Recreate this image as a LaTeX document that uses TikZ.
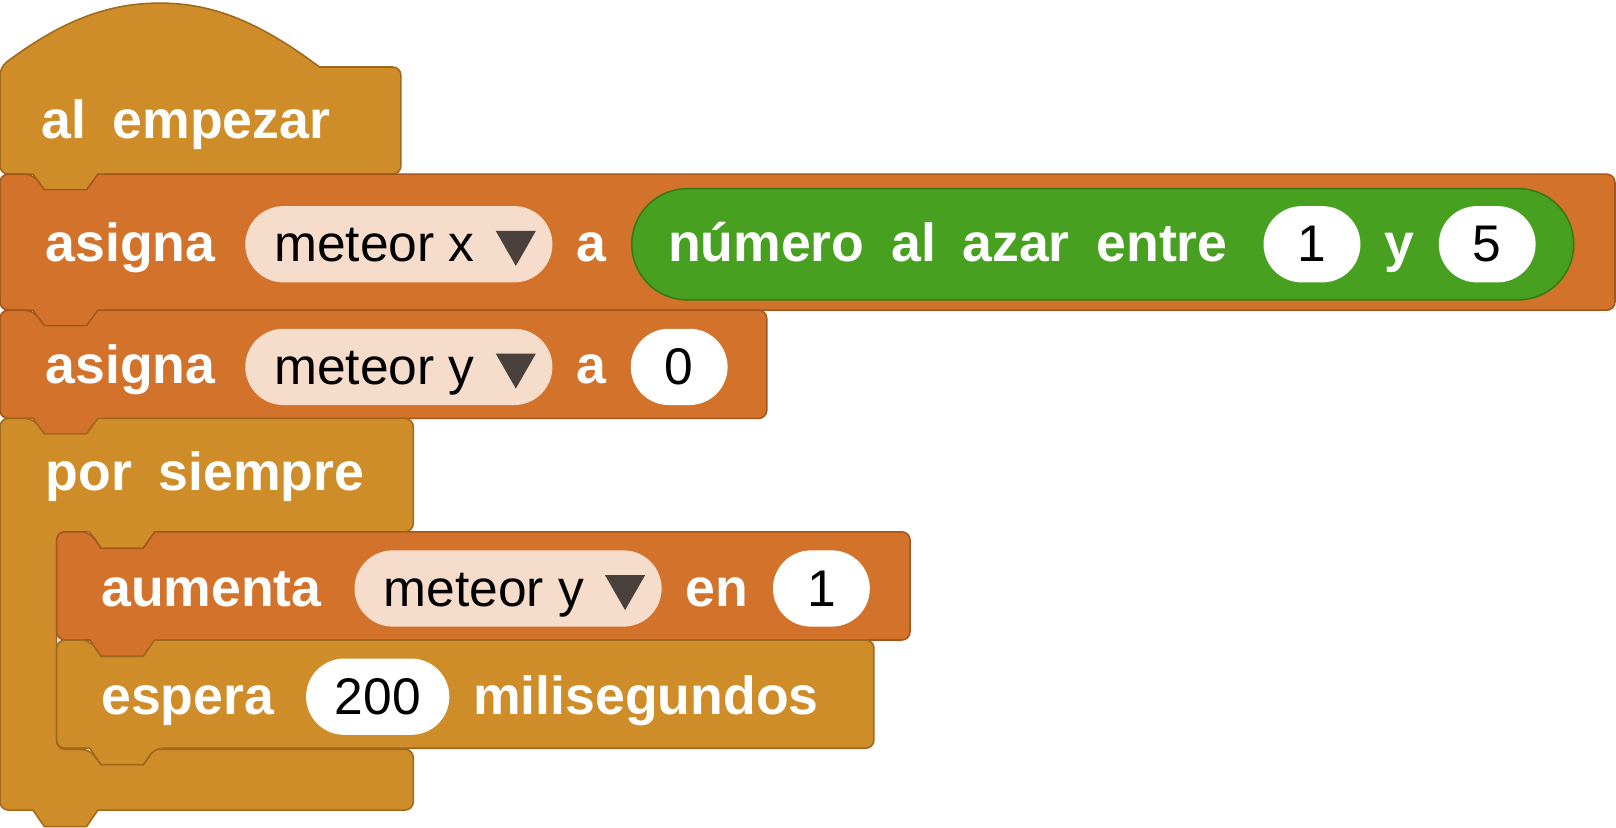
\documentclass[tikz,border=0pt]{standalone}
\usepackage{fontspec}
\setmainfont{Liberation Sans}
\definecolor{gold}{HTML}{CF8D29}
\definecolor{goldd}{HTML}{A0681C}
\definecolor{orng}{HTML}{D2722B}
\definecolor{orngd}{HTML}{A4561B}
\definecolor{grn}{HTML}{48A020}
\definecolor{grnd}{HTML}{357A16}
\definecolor{pill}{HTML}{F5DCCB}
\definecolor{tri}{HTML}{4A413C}
\newcommand\blk[6]{\filldraw[fill=#5,draw=#6,line width=1.5pt,rounded corners=8pt] (#1,#2) -- (#1+32,#2) [sharp corners]-- (#1+43,#2+15) -- (#1+84,#2+15) -- (#1+95,#2) [rounded corners=8pt] -- (#3,#2) -- (#3,#4) -- (#1+95,#4) [sharp corners] -- (#1+84,#4+16) -- (#1+43,#4+16) -- (#1+32,#4) [rounded corners=8pt] -- (#1,#4) -- cycle;}
\newcommand\tri[2]{\fill[tri] (#1,#2) -- (#1+39,#2) -- (#1+19.5,#2+34) -- cycle;}
\newcommand\W{\hspace{0.22em}}
\tikzset{lbl/.style={text=white,font=\fontsize{52}{60}\selectfont\bfseries,anchor=base west,inner sep=0pt},
val/.style={text=black,font=\fontsize{50}{60}\selectfont,inner sep=0pt},
pl/.style={fill=pill,rounded corners=37pt},
wp/.style={fill=white,rounded corners=37pt}}
\begin{document}
\begin{tikzpicture}[x=1pt,y=-1pt]
\useasboundingbox (0,0) rectangle (1568,803.4);
% hat
\filldraw[fill=gold,draw=goldd,line width=1.5pt,rounded corners=8pt] (0,169) -- (0,65) [sharp corners] .. controls (60,20) and (105,3) .. (155,3) .. controls (205,3) and (250,20) .. (310,65) [rounded corners=8pt] -- (389,65) -- (389,169) -- (95,169) [sharp corners] -- (84,185) -- (43,185) -- (32,169) [rounded corners=8pt] -- cycle;
\node[lbl] (t1) at (40,134) {al\W{} empezar};
% asigna 1
\blk{0}{169}{1567}{301}{orng}{orngd}
\node[lbl] (t2) at (44,254) {asigna};
\fill[pl] (238,200) rectangle (536,274);
\node[val,anchor=base west] (p1) at (266,254) {meteor x};
\tri{481}{224}
\node[lbl] (t3) at (559,254) {a};
\filldraw[fill=grn,draw=grnd,line width=1.5pt,rounded corners=54pt] (613,183) rectangle (1527,291);
\node[lbl] (t4) at (648,254) {número\W{} al\W{} azar\W{} entre};
\fill[wp] (1226,200) rectangle (1320,274);
\node[val] (v1) at (1273,237) {1};
\node[lbl] (t5) at (1343,254) {y};
\fill[wp] (1396,200) rectangle (1490,274);
\node[val] (v2) at (1443,237) {5};
% asigna 2
\blk{0}{301}{744}{406}{orng}{orngd}
\node[lbl] (t6) at (44,372) {asigna};
\fill[pl] (238,319) rectangle (536,393);
\node[val,anchor=base west] (p2) at (266,373) {meteor y};
\tri{481}{343}
\node[lbl] (t7) at (559,372) {a};
\fill[wp] (612,319) rectangle (706,393);
\node[val] (v3) at (659,356) {0};
% forever
\filldraw[fill=gold,draw=goldd,line width=1.5pt,rounded corners=8pt] (0,406) -- (32,406) [sharp corners] -- (43,421) -- (84,421) -- (95,406) [rounded corners=8pt] -- (401,406) -- (401,516) -- (150,516) [sharp corners] -- (139,532) -- (98,532) -- (87,516) [rounded corners=8pt] -- (55,516) -- (55,727) -- (87,727) [sharp corners] -- (98,742) -- (139,742) -- (150,727) [rounded corners=8pt] -- (401,727) -- (401,786) [sharp corners] -- (95,786) -- (84,802) -- (43,802) -- (32,786) [rounded corners=8pt] -- (0,786) -- cycle;
\node[lbl] (t8) at (44,476) {por\W{} siempre};
% aumenta
\filldraw[fill=orng,draw=orngd,line width=1.5pt,rounded corners=8pt] (55,516) -- (87,516) [sharp corners] -- (98,532) -- (139,532) -- (150,516) [rounded corners=8pt] -- (883,516) -- (883,621) -- (150,621) [sharp corners] -- (139,637) -- (98,637) -- (87,621) [rounded corners=8pt] -- (55,621) -- cycle;
\node[lbl] (t9) at (98,588) {aumenta};
\fill[pl] (344,534) rectangle (642,608);
\node[val,anchor=base west] (p3) at (372,588) {meteor y};
\tri{587}{558}
\node[lbl] (t10) at (665,588) {en};
\fill[wp] (750,534) rectangle (844,608);
\node[val] (v4) at (797,571) {1};
% espera
\filldraw[fill=gold,draw=goldd,line width=1.5pt,rounded corners=8pt] (55,621) -- (87,621) [sharp corners] -- (98,637) -- (139,637) -- (150,621) [rounded corners=8pt] -- (848,621) -- (848,726) -- (150,726) [sharp corners] -- (139,742) -- (98,742) -- (87,726) [rounded corners=8pt] -- (55,726) -- cycle;
\node[lbl] (t11) at (98,693) {espera};
\fill[wp] (297,639) rectangle (436,713);
\node[val] (v5) at (366.5,676) {200};
\node[lbl] (t12) at (459,693) {milisegundos};
\end{tikzpicture}
\end{document}
